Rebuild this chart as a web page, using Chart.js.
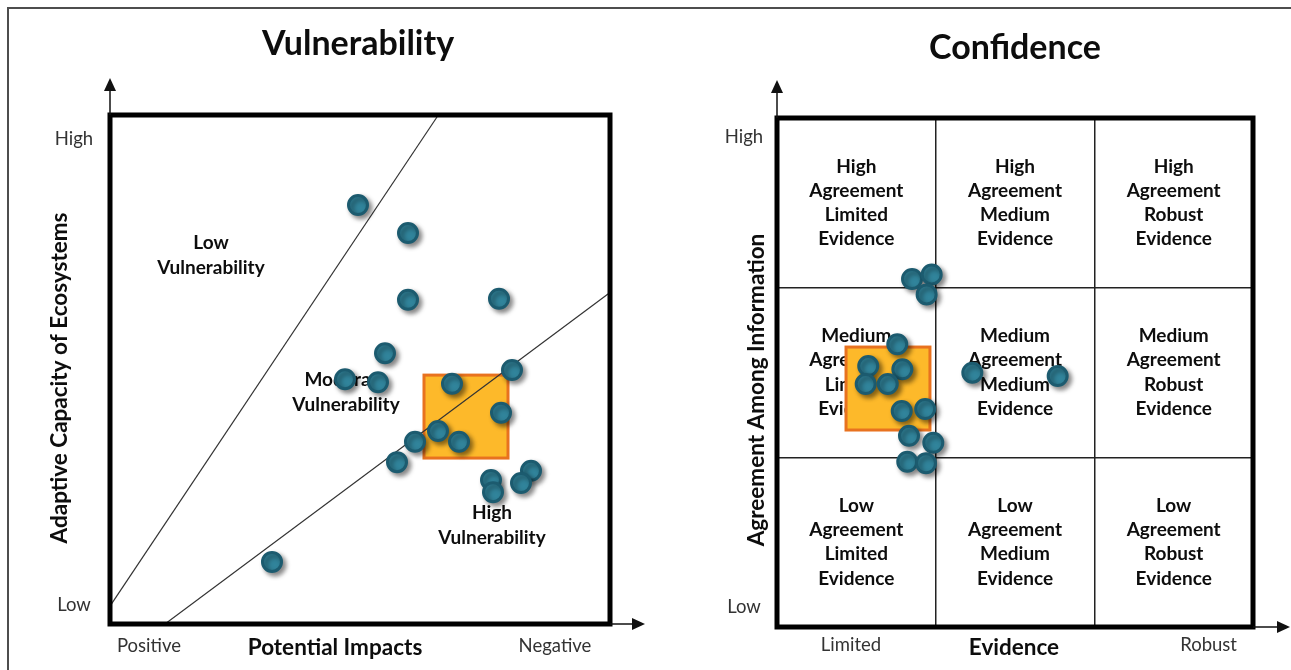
<!DOCTYPE html>
<html>
<head>
<meta charset="utf-8">
<script src="https://cdn.jsdelivr.net/npm/chart.js@4.4.1/dist/chart.umd.min.js"></script>
<style>
  html, body { margin: 0; padding: 0; background: #fff; }
  #page { position: relative; width: 1291px; height: 670px; overflow: hidden; background: #fff; }
  #frame { position: absolute; left: 7px; top: 7px; right: -5px; bottom: -5px;
           border-top: 2px solid #4d4d4d; border-left: 2px solid #4d4d4d; }
  .panel { position: absolute; top: 0; height: 670px; }
  #vulnWrap { left: 0; width: 660px; }
  #confWrap { left: 660px; width: 631px; }
  canvas { display: block; }
</style>
</head>
<body>
<div id="page">
  <div id="frame"></div>
  <div class="panel" id="vulnWrap"><canvas id="vulnChart" width="660" height="670"></canvas></div>
  <div class="panel" id="confWrap"><canvas id="confChart" width="631" height="670"></canvas></div>
</div>

<script>
/* ---- Vulnerability panel data (0-100 scale both axes) ---- */
const vulnImpact   = [49.6, 59.6, 59.6, 77.8, 55.0, 47.0, 53.6, 68.4, 80.4, 78.2, 61.0, 65.6, 69.8, 57.4, 76.2, 76.6, 84.2, 82.2, 32.4];
const vulnCapacity = [82.3, 76.8, 63.7, 63.9, 53.2, 48.1, 47.5, 47.2, 49.9, 41.5, 35.8, 37.9, 35.8, 31.8, 28.3, 25.9, 30.1, 27.7, 12.2];

// boundary lines between vulnerability zones
const lowLineX  = [0, 65.4];
const lowLineY  = [3.5, 99.6];
const highLineX = [11, 99.8];
const highLineY = [0, 65.0];

// highlighted square [xMin, xMax, yMin, yMax]
const vulnBox = [62.8, 79.6, 32.6, 48.9];

const vulnXTickValues = [7.8, 89];
const vulnXTickLabels = ['Positive', 'Negative'];
const vulnYTickValues = [95.3, 3.7];
const vulnYTickLabels = ['High', 'Low'];

const vulnZoneLabels = [['Low', 'Vulnerability'], ['Moderate', 'Vulnerability'], ['High', 'Vulnerability']];
const vulnZoneX = [20.2, 47.2, 76.4];
const vulnZoneY = [72.4, 45.5, 19.4];

/* ---- Confidence panel data (0-3 scale, 3x3 cells) ---- */
const confEvidence  = [0.851, 0.975, 0.943, 0.758, 0.575, 0.790, 0.559, 0.698, 0.786, 0.934, 0.832, 0.985, 0.821, 0.939, 1.231, 1.769];
const confAgreement = [2.051, 2.078, 1.960, 1.666, 1.538, 1.519, 1.432, 1.432, 1.273, 1.285, 1.127, 1.086, 0.974, 0.965, 1.499, 1.479];

const confBox = [0.435, 0.964, 1.161, 1.650];

const evidenceLevels  = ['Limited', 'Medium', 'Robust'];
const agreementLevels = ['Low', 'Medium', 'High'];

const confXTickValues = [0.466, 2.72];
const confXTickLabels = ['Limited', 'Robust'];
const confYTickValues = [2.89, 0.118];
const confYTickLabels = ['High', 'Low'];

/* ---- styling ---- */
const FONT = 'Lato, "Open Sans", sans-serif';
const COLORS = {
  marker: '#31849b',
  markerEdge: '#1c5b6f',
  boxFill: '#fdb92a',
  boxEdge: '#e8721f',
  line: '#333333',
  text: '#0d0d0d',
  tick: '#333333',
};

const zip = (xs, ys) => xs.map((x, i) => ({ x, y: ys[i] }));

// drop shadow under the markers
const shadowPlugin = {
  id: 'markerShadow',
  beforeDatasetDraw(chart, args) {
    if (!chart.data.datasets[args.index].shadow) return;
    const ctx = chart.ctx;
    ctx.save();
    ctx.shadowColor = 'rgba(0,0,0,0.45)';
    ctx.shadowBlur = 5;
    ctx.shadowOffsetX = 3;
    ctx.shadowOffsetY = 3;
  },
  afterDatasetDraw(chart, args) {
    if (!chart.data.datasets[args.index].shadow) return;
    chart.ctx.restore();
  }
};

function arrow(ctx, x1, y1, x2, y2) {
  const ang = Math.atan2(y2 - y1, x2 - x1);
  const head = 13, half = 6;
  ctx.save();
  ctx.strokeStyle = '#111';
  ctx.fillStyle = '#111';
  ctx.lineWidth = 1.5;
  ctx.beginPath();
  ctx.moveTo(x1, y1);
  ctx.lineTo(x2 - Math.cos(ang) * head, y2 - Math.sin(ang) * head);
  ctx.stroke();
  ctx.beginPath();
  ctx.moveTo(x2, y2);
  ctx.lineTo(x2 - Math.cos(ang) * head - Math.sin(ang) * half, y2 - Math.sin(ang) * head + Math.cos(ang) * half);
  ctx.lineTo(x2 - Math.cos(ang) * head + Math.sin(ang) * half, y2 - Math.sin(ang) * head - Math.cos(ang) * half);
  ctx.closePath();
  ctx.fill();
  ctx.restore();
}

function textBlock(ctx, lines, cx, cy, lineH) {
  const start = cy - (lines.length - 1) * lineH / 2;
  lines.forEach((t, i) => ctx.fillText(t, cx, start + i * lineH));
}

// frame, titles, tick words, highlighted square
const panelPlugin = {
  id: 'panel',
  beforeDatasetsDraw(chart, args, o) {
    const { ctx, scales: { x, y } } = chart;
    ctx.save();
    ctx.textAlign = 'center';
    ctx.textBaseline = 'middle';
    ctx.fillStyle = COLORS.text;
    ctx.font = `bold ${o.zoneSize}px ${FONT}`;
    o.zones.forEach(z => textBlock(ctx, z.lines, x.getPixelForValue(z.x), y.getPixelForValue(z.y), o.zoneLine));

    const b = o.box;
    const bx = x.getPixelForValue(b[0]), bw = x.getPixelForValue(b[1]) - bx;
    const by = y.getPixelForValue(b[3]), bh = y.getPixelForValue(b[2]) - by;
    ctx.fillStyle = COLORS.boxFill;
    ctx.fillRect(bx, by, bw, bh);
    ctx.strokeStyle = COLORS.boxEdge;
    ctx.lineWidth = 3;
    ctx.strokeRect(bx, by, bw, bh);
    ctx.restore();
  },
  afterDatasetsDraw(chart, args, o) {
    const { ctx, chartArea: a, scales: { x, y } } = chart;
    ctx.save();
    ctx.strokeStyle = '#000';
    ctx.lineWidth = 5;
    ctx.strokeRect(a.left, a.top, a.right - a.left, a.bottom - a.top);
    ctx.restore();

    arrow(ctx, a.left, a.top, a.left, o.arrowTop);
    arrow(ctx, a.right, a.bottom, o.arrowRight, a.bottom);

    ctx.save();
    ctx.textAlign = 'center';
    ctx.textBaseline = 'middle';
    ctx.fillStyle = COLORS.text;
    ctx.font = `bold ${o.titleSize}px ${FONT}`;
    ctx.fillText(o.title, o.titleX, o.titleY);

    ctx.font = `bold ${o.axisSize}px ${FONT}`;
    ctx.fillText(o.xTitle, o.xTitleX, o.xTitleY);
    ctx.save();
    ctx.translate(o.yTitleX, o.yTitleY);
    ctx.rotate(-Math.PI / 2);
    ctx.fillText(o.yTitle, 0, 0);
    ctx.restore();

    ctx.fillStyle = COLORS.tick;
    ctx.font = `${o.tickSize}px ${FONT}`;
    o.xTicks.values.forEach((v, i) => ctx.fillText(o.xTicks.labels[i], x.getPixelForValue(v), o.xTickY));
    o.yTicks.values.forEach((v, i) => ctx.fillText(o.yTicks.labels[i], o.yTickX, y.getPixelForValue(v)));
    ctx.restore();
  }
};

function markerDataset(points) {
  return {
    label: 'Assessments',
    data: points,
    shadow: true,
    order: 0,
    clip: false,
    pointRadius: 9.5,
    pointHoverRadius: 9.5,
    pointBackgroundColor: COLORS.marker,
    pointBorderColor: COLORS.markerEdge,
    pointBorderWidth: 3,
  };
}

function lineDataset(xs, ys) {
  return {
    data: zip(xs, ys),
    showLine: true,
    order: 1,
    borderColor: COLORS.line,
    borderWidth: 1.2,
    pointRadius: 0,
  };
}

function baseOptions(padding) {
  return {
    responsive: false,
    animation: false,
    devicePixelRatio: 1,
    layout: { padding },
    plugins: { legend: { display: false }, tooltip: { enabled: false } },
  };
}

/* ---- Chart 1: Vulnerability ---- */
function initVulnerability() {
  const opts = baseOptions({ left: 110, right: 50, top: 115, bottom: 46 });
  opts.scales = {
    x: { type: 'linear', min: 0, max: 100, display: false },
    y: { type: 'linear', min: 0, max: 100, display: false },
  };
  opts.plugins.panel = {
    title: 'Vulnerability', titleSize: 34, titleX: 358, titleY: 44,
    xTitle: 'Potential Impacts', xTitleX: 335, xTitleY: 648,
    yTitle: 'Adaptive Capacity of Ecosystems', yTitleX: 60, yTitleY: 378,
    axisSize: 22.5, tickSize: 18.5,
    xTicks: { values: vulnXTickValues, labels: vulnXTickLabels }, xTickY: 646,
    yTicks: { values: vulnYTickValues, labels: vulnYTickLabels }, yTickX: 74,
    zones: vulnZoneLabels.map((lines, i) => ({ lines, x: vulnZoneX[i], y: vulnZoneY[i] })),
    zoneSize: 19, zoneLine: 25,
    box: vulnBox,
    arrowTop: 78, arrowRight: 645,
  };

  new Chart(document.getElementById('vulnChart'), {
    type: 'scatter',
    data: {
      datasets: [
        markerDataset(zip(vulnImpact, vulnCapacity)),
        lineDataset(lowLineX, lowLineY),
        lineDataset(highLineX, highLineY),
      ]
    },
    options: opts,
    plugins: [shadowPlugin, panelPlugin]
  });
}

/* ---- Chart 2: Confidence ---- */
function initConfidence() {
  const opts = baseOptions({ left: 117, right: 38, top: 118, bottom: 43 });
  const gridAxis = {
    type: 'linear', min: 0, max: 3,
    ticks: { display: false, stepSize: 1 },
    grid: { color: '#222', lineWidth: 1.5, drawTicks: false },
    border: { display: false },
  };
  opts.scales = { x: { ...gridAxis }, y: { ...gridAxis } };

  const zones = [];
  agreementLevels.forEach((ag, r) => {
    evidenceLevels.forEach((ev, c) => {
      zones.push({ lines: [ag, 'Agreement', ev, 'Evidence'], x: c + 0.5, y: r + 0.5 });
    });
  });

  opts.plugins.panel = {
    title: 'Confidence', titleSize: 34, titleX: 355, titleY: 48,
    xTitle: 'Evidence', xTitleX: 354, xTitleY: 648,
    yTitle: 'Agreement Among Information', yTitleX: 97, yTitleY: 390,
    axisSize: 22.5, tickSize: 18.5,
    xTicks: { values: confXTickValues, labels: confXTickLabels }, xTickY: 645,
    yTicks: { values: confYTickValues, labels: confYTickLabels }, yTickX: 84,
    zones, zoneSize: 19, zoneLine: 24.3,
    box: confBox,
    arrowTop: 80, arrowRight: 630,
  };

  new Chart(document.getElementById('confChart'), {
    type: 'scatter',
    data: { datasets: [markerDataset(zip(confEvidence, confAgreement))] },
    options: opts,
    plugins: [shadowPlugin, panelPlugin]
  });
}

initVulnerability();
initConfidence();
</script>
</body>
</html>
